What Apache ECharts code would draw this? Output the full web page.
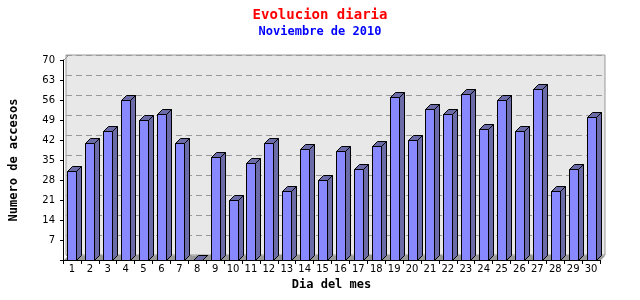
<!DOCTYPE html>
<html>
<head>
<meta charset="utf-8">
<script src="https://cdn.jsdelivr.net/npm/echarts@6/dist/echarts.min.js"></script>
<style>html,body{margin:0;padding:0;background:#fff}#c{width:640px;height:300px}</style>
</head>
<body>
<div id="c"></div>
<script>
const days = ['1','2','3','4','5','6','7','8','9','10','11','12','13','14','15','16','17','18','19','20','21','22','23','24','25','26','27','28','29','30'];
const visits = [31,41,45,56,49,51,41,0,36,21,34,41,24,39,28,38,32,40,57,42,53,51,58,46,56,45,60,24,32,50];
const yTicks = [0,7,14,21,28,35,42,49,56,63,70];

const DEPTH = 5;
const chart = echarts.init(document.getElementById('c'), null, {renderer:'canvas'});
const mono = 'DejaVu Sans Mono';

function barItem(params, api) {
  const i = api.value(0), v = api.value(1);
  const base = api.coord([i, 0]);
  const top = api.coord([i, v]);
  const band = api.size([1, 0])[0];
  const w = Math.round(band * 0.52);
  const l = Math.round(base[0] - w / 2) + 0.5, r = l + w;
  const yb = Math.round(base[1]) + 0.5, yt = Math.round(top[1]) + 0.5;
  const d = DEPTH;
  return {type:'group', children:[
    {type:'polygon', shape:{points:[[r,yb],[r+d,yb-d],[r+d,yt-d],[r,yt]]},
      style:{fill:'#6B6BA8', stroke:'#000', lineWidth:1}},
    {type:'polygon', shape:{points:[[l,yt],[l+d,yt-d],[r+d,yt-d],[r,yt]]},
      style:{fill:'#6B6BA8', stroke:'#000', lineWidth:1}},
    {type:'rect', shape:{x:l, y:yt, width:w, height:yb-yt},
      style:{fill:'#8888FF', stroke:'#000', lineWidth:1}}
  ]};
}

function floorItem(params, api) {
  const band = api.size([1, 0])[0];
  const a = api.coord([0, 0]), b = api.coord([days.length - 1, 0]);
  const t = api.coord([0, yTicks[yTicks.length - 1]]);
  const x0 = Math.round(a[0] - band / 2) + 0.5, x1 = Math.round(b[0] + band / 2) + 0.5;
  const y0 = Math.round(a[1]) + 0.5, yt = Math.round(t[1]) + 0.5;
  const d = DEPTH;
  return {type:'group', children:[
    {type:'polygon', shape:{points:[[x0,y0],[x1,y0],[x1+d,y0-d],[x0+d,y0-d]]},
      style:{fill:'#999999', stroke:null}},
    {type:'line', shape:{x1:x0, y1:yt, x2:x0+d, y2:yt-d}, style:{stroke:'#999', lineWidth:1}}
  ]};
}

chart.setOption({
  backgroundColor:'#fff',
  animation:false,
  title:{
    text:'Evolucion diaria', subtext:'Noviembre de 2010', left:'center', top:3, itemGap:4,
    textStyle:{color:'#ff0000', fontFamily:mono, fontWeight:'bold', fontSize:14},
    subtextStyle:{color:'#0000ff', fontFamily:mono, fontWeight:'bold', fontSize:12}
  },
  grid:[
    {left:61, right:40, top:60, bottom:40},
    {left:61+DEPTH, right:40-DEPTH, top:60-DEPTH, bottom:40+DEPTH, show:true,
      backgroundColor:'#E8E8E8', borderColor:'#999', borderWidth:1, z:0}
  ],
  xAxis:[
    {type:'category', gridIndex:0, data:days, boundaryGap:true,
      name:'Dia del mes', nameLocation:'middle', nameGap:18,
      nameTextStyle:{fontFamily:mono, fontWeight:'bold', fontSize:12, color:'#000'},
      axisLine:{lineStyle:{color:'#000', width:1}},
      axisTick:{show:true, length:4, lineStyle:{color:'#000'}, alignWithLabel:false},
      axisLabel:{color:'#000', fontFamily:'DejaVu Sans', fontSize:10, margin:4, interval:0},
      z:5},
    {type:'category', gridIndex:1, data:days, show:false}
  ],
  yAxis:[
    {type:'value', gridIndex:0, min:0, max:70, interval:7,
      name:'Numero de accesos', nameLocation:'middle', nameGap:43, nameRotate:90,
      nameTextStyle:{fontFamily:mono, fontWeight:'bold', fontSize:12, color:'#000'},
      axisLine:{show:true, lineStyle:{color:'#000', width:1}},
      axisTick:{show:true, length:3, lineStyle:{color:'#000'}},
      axisLabel:{color:'#000', fontFamily:'DejaVu Sans', fontSize:10, margin:8,
        formatter:v => v === 0 ? '' : String(v)},
      splitLine:{show:false}, z:5},
    {type:'value', gridIndex:1, min:0, max:70, interval:7,
      axisLine:{show:false}, axisTick:{show:false}, axisLabel:{show:false},
      splitLine:{show:true, lineStyle:{color:'#999', type:[6,4], width:1}}}
  ],
  series:[
    {type:'custom', xAxisIndex:0, yAxisIndex:0, data:[[0]], renderItem:floorItem, z:1, silent:true},
    {type:'custom', xAxisIndex:0, yAxisIndex:0, data:visits.map((v,i)=>[i,v]),
      encode:{x:0, y:1}, renderItem:barItem, z:2, clip:false}
  ]
});
</script>
</body>
</html>
